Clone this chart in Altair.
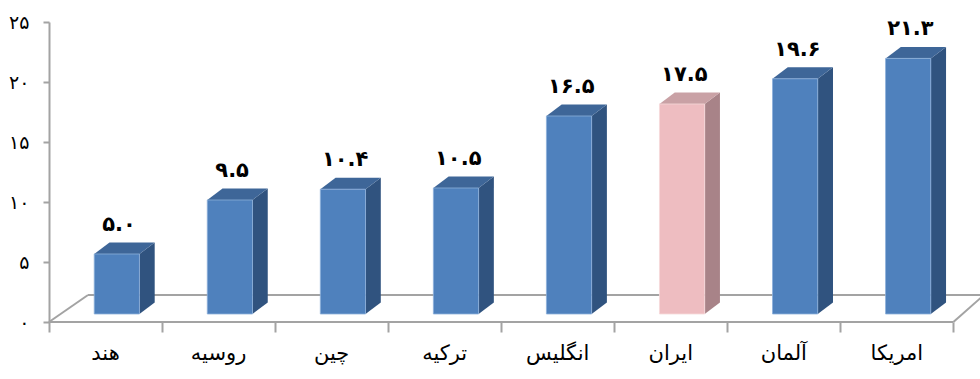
import altair as alt
import pandas as pd

# ---- data ----
categories = ['هند', 'روسیه', 'چین', 'ترکیه', 'انگلیس', 'ایران', 'آلمان', 'امریکا']
values = [5.0, 9.5, 10.4, 10.5, 16.5, 17.5, 19.6, 21.3]
value_labels = ['۵.۰', '۹.۵', '۱۰.۴', '۱۰.۵', '۱۶.۵', '۱۷.۵', '۱۹.۶', '۲۱.۳']
highlight = 'ایران'
y_ticks = [0, 5, 10, 15, 20, 25]
y_tick_labels = ['۰', '۵', '۱۰', '۱۵', '۲۰', '۲۵']

# ---- styling / 3D geometry (band units on x, value units on y) ----
FRONT_L, FRONT_R = 0.40, 0.80
DX, DY = 0.135, 0.96
BASE = 0.667
FLOOR_BACK = 2.25
FLOOR_LEFT_DX = 0.345
FLOOR_RIGHT = 8.27
N = len(categories)
FONT = 'DejaVu Sans'
GRAY = '#A3A3A3'

blue = dict(front='#4F81BD', top='#3E6698', side='#30537F', edge='#8DB0DA')
pink = dict(front='#EEBDC1', top='#C9A1A5', side='#A88388', edge='#F6D9DB')

front_rows, side_rows, top_rows, label_rows = [], [], [], []
for i, (c, v, lab) in enumerate(zip(categories, values, value_labels)):
    pal = pink if c == highlight else blue
    T = v + BASE
    front_rows.append(dict(x=i + FRONT_L, x2=i + FRONT_R, y=BASE, y2=T,
                           fill=pal['front'], stroke=pal['edge']))
    side_rows += [
        dict(bar=i, x=i + FRONT_R, lo=BASE, hi=T, fill=pal['side']),
        dict(bar=i, x=i + FRONT_R + DX, lo=BASE + DY, hi=T + DY, fill=pal['side']),
    ]
    top_rows += [
        dict(bar=i, x=i + FRONT_L, lo=T, hi=T, fill=pal['top']),
        dict(bar=i, x=i + FRONT_L + DX, lo=T, hi=T + DY, fill=pal['top']),
        dict(bar=i, x=i + FRONT_R, lo=T, hi=T + DY, fill=pal['top']),
        dict(bar=i, x=i + FRONT_R + DX, lo=T + DY, hi=T + DY, fill=pal['top']),
    ]
    label_rows.append(dict(x=i + (FRONT_L + FRONT_R) / 2 + 0.02, v=v, label=lab,
                           cx=i + 0.5, cat=c))

front_df = pd.DataFrame(front_rows)
side_df = pd.DataFrame(side_rows)
top_df = pd.DataFrame(top_rows)
label_df = pd.DataFrame(label_rows)
floor_df = pd.DataFrame([
    dict(x=0, y=0, x2=N, y2=0),
    dict(x=0, y=0, x2=FLOOR_LEFT_DX, y2=FLOOR_BACK),
    dict(x=FLOOR_LEFT_DX, y=FLOOR_BACK, x2=FLOOR_RIGHT, y2=FLOOR_BACK),
    dict(x=N, y=0, x2=FLOOR_RIGHT, y2=FLOOR_BACK),
])

label_expr = ''.join(f"datum.value == {t} ? '{l}' : " for t, l in zip(y_ticks, y_tick_labels)) + "''"

x_scale = alt.Scale(domain=[0, 8.2], nice=False, zero=False)
y_scale = alt.Scale(domain=[0, 25], nice=False)

x_axis = alt.Axis(values=list(range(N + 1)), labels=False, domain=False, grid=False,
                  tickSize=10, tickWidth=2, tickColor=GRAY, title=None)
y_axis = alt.Axis(values=y_ticks, labelExpr=label_expr, grid=False, domainColor=GRAY,
                  domainWidth=2, tickColor=GRAY, tickWidth=2, tickSize=6,
                  labelFontSize=19, labelFont=FONT, labelColor='#000000',
                  labelPadding=14, title=None)

floor = alt.Chart(floor_df).mark_rule(color=GRAY, strokeWidth=2).encode(
    x=alt.X('x:Q', scale=x_scale, axis=x_axis),
    y=alt.Y('y:Q', scale=y_scale, axis=y_axis),
    x2='x2:Q', y2='y2:Q')

front = alt.Chart(front_df).mark_rect(strokeWidth=0.8).encode(
    x=alt.X('x:Q', scale=x_scale), x2='x2:Q',
    y=alt.Y('y:Q', scale=y_scale), y2='y2:Q',
    fill=alt.Fill('fill:N', scale=None), stroke=alt.Stroke('stroke:N', scale=None))

side = alt.Chart(side_df).mark_area(interpolate='linear', opacity=1).encode(
    x=alt.X('x:Q', scale=x_scale), y=alt.Y('lo:Q', scale=y_scale), y2='hi:Q',
    detail='bar:N', fill=alt.Fill('fill:N', scale=None))

top = alt.Chart(top_df).mark_area(interpolate='linear', opacity=1).encode(
    x=alt.X('x:Q', scale=x_scale), y=alt.Y('lo:Q', scale=y_scale), y2='hi:Q',
    detail='bar:N', fill=alt.Fill('fill:N', scale=None))

vlabels = alt.Chart(label_df).mark_text(font=FONT, fontSize=21, fontWeight='bold',
                                        color='#000000', dy=-37, baseline='middle').encode(
    x=alt.X('x:Q', scale=x_scale), y=alt.Y('v:Q', scale=y_scale), text='label:N')

clabels = alt.Chart(label_df).mark_text(font=FONT, fontSize=21, color='#000000',
                                        dy=32, baseline='middle').encode(
    x=alt.X('cx:Q', scale=x_scale), y=alt.datum(0), text='cat:N')

chart = alt.layer(floor, side, top, front, vlabels, clabels).properties(
    width=927, height=300,
    autosize=alt.AutoSizeParams(type='none'),
    padding={'left': 49, 'top': 22, 'right': 4, 'bottom': 57},
    background='#FFFFFF',
).configure_view(stroke=None)

chart.save('out.html', embed_options={'renderer': 'svg', 'actions': False})
